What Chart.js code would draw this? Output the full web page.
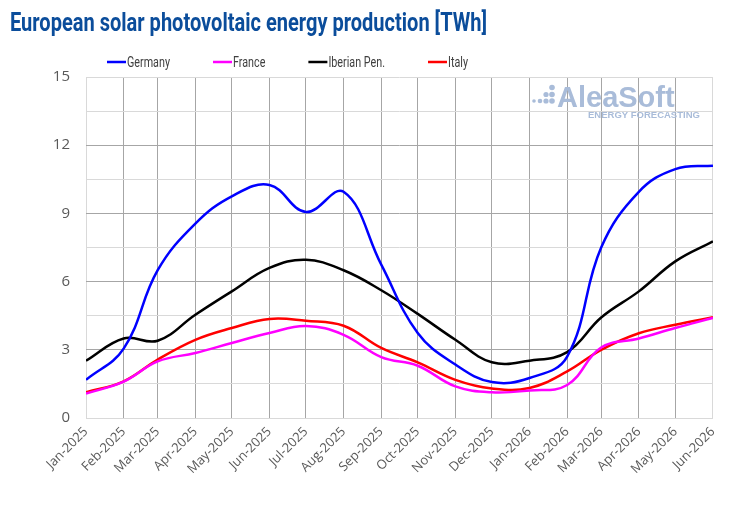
<!DOCTYPE html>
<html>
<head>
<meta charset="utf-8">
<script src="https://cdn.jsdelivr.net/npm/chart.js@4/dist/chart.umd.min.js"></script>
<style>
  html, body { margin: 0; padding: 0; background: #fff; }
  #wrap { width: 730px; height: 506px; }
</style>
</head>
<body>
<div id="wrap"><canvas id="solarChart" width="730" height="506"></canvas></div>
<script>
// month starts (x positions come from the real calendar dates)
const MONTHS = ['2025-01-01', '2025-02-01', '2025-03-01', '2025-04-01', '2025-05-01', '2025-06-01',
    '2025-07-01', '2025-08-01', '2025-09-01', '2025-10-01', '2025-11-01', '2025-12-01',
    '2026-01-01', '2026-02-01', '2026-03-01', '2026-04-01', '2026-05-01', '2026-06-01'];
const MONTH_LABELS = ['Jan-2025', 'Feb-2025', 'Mar-2025', 'Apr-2025', 'May-2025', 'Jun-2025',
    'Jul-2025', 'Aug-2025', 'Sep-2025', 'Oct-2025', 'Nov-2025', 'Dec-2025',
    'Jan-2026', 'Feb-2026', 'Mar-2026', 'Apr-2026', 'May-2026', 'Jun-2026'];
const Y_TICKS = [0, 3, 6, 9, 12, 15];

const GERMANY = [1.68, 3.05, 6.5, 8.55, 9.75, 10.25, 9.06, 9.95, 6.75, 3.74, 2.35, 1.58, 1.76, 2.7, 7.5, 9.95, 10.95, 11.1];
const FRANCE  = [1.07, 1.6, 2.49, 2.86, 3.3, 3.74, 4.05, 3.66, 2.68, 2.3, 1.39, 1.13, 1.21, 1.45, 3.1, 3.5, 3.96, 4.4];
const IBERIA  = [2.52, 3.5, 3.4, 4.54, 5.57, 6.6, 6.96, 6.5, 5.62, 4.58, 3.44, 2.45, 2.52, 2.9, 4.42, 5.57, 6.89, 7.77];
const ITALY   = [1.13, 1.61, 2.57, 3.44, 3.96, 4.36, 4.28, 4.06, 3.08, 2.45, 1.68, 1.3, 1.32, 2.05, 3.0, 3.73, 4.1, 4.43];

const TITLE = 'European solar photovoltaic energy production [TWh]';

const DAY = 24 * 60 * 60 * 1000;
const t0 = Date.parse(MONTHS[0]);
const monthDays = MONTHS.map(m => Math.round((Date.parse(m) - t0) / DAY));
const toPoints = arr => arr.map((v, i) => ({ x: monthDays[i], y: v }));

const TICK_FONT = '"Open Sans", "Liberation Sans", sans-serif';
const LIGHT = '#d9d9d9';
const MID = '#a6a6a6';

function series(label, data, color) {
    return {
        label: label,
        data: toPoints(data),
        borderColor: color,
        backgroundColor: color,
        borderWidth: 2.5,
        pointRadius: 0,
        pointHoverRadius: 0,
        fill: false,
        tension: 0.4
    };
}

// draw text squeezed horizontally, the original uses a condensed face
function narrowText(ctx, text, x, y, sx) {
    ctx.save();
    ctx.translate(x, y);
    ctx.scale(sx, 1);
    ctx.fillText(text, 0, 0);
    ctx.restore();
}

// title + one-row legend with short line samples
const header = {
    id: 'header',
    afterDraw(chart) {
        const ctx = chart.ctx;
        ctx.save();
        ctx.fillStyle = '#0b4d9b';
        ctx.font = 'bold 26px Roboto, sans-serif';
        ctx.textBaseline = 'alphabetic';
        const tw = ctx.measureText(TITLE).width;
        narrowText(ctx, TITLE, 10, 31, 477 / tw);

        ctx.font = '14.5px Roboto, sans-serif';
        ctx.textBaseline = 'middle';
        const sx = 43 / ctx.measureText('Germany').width;
        let x = 107;
        const y = 62;
        chart.data.datasets.forEach(ds => {
            ctx.strokeStyle = ds.borderColor;
            ctx.lineWidth = 2.5;
            ctx.beginPath();
            ctx.moveTo(x, y);
            ctx.lineTo(x + 19, y);
            ctx.stroke();
            ctx.fillStyle = '#404040';
            narrowText(ctx, ds.label, x + 20, y + 1, sx);
            x += 20 + ctx.measureText(ds.label).width * sx + 43;
        });
        ctx.restore();
    }
};

// faded company mark in the top right of the plot
const watermark = {
    id: 'watermark',
    beforeDatasetsDraw(chart) {
        const ctx = chart.ctx;
        ctx.save();
        ctx.fillStyle = '#a9bcd9';
        const dots = [[534, 101, 1.8], [540, 101, 2.3], [546, 101, 2.6], [546, 94.5, 2.6],
                      [552, 101, 2.8], [552, 94.5, 2.8], [552, 87.5, 2.8]];
        dots.forEach(([dx, dy, r]) => {
            ctx.beginPath();
            ctx.arc(dx, dy, r, 0, Math.PI * 2);
            ctx.fill();
        });
        ctx.font = 'bold 29px "Liberation Sans", Arial, sans-serif';
        ctx.textBaseline = 'alphabetic';
        ctx.fillText('AleaSoft', 557, 107);
        ctx.font = 'bold 9.5px "Liberation Sans", Arial, sans-serif';
        ctx.fillText('ENERGY FORECASTING', 588, 118);
        ctx.restore();
    }
};

const ctx = document.getElementById('solarChart').getContext('2d');
new Chart(ctx, {
    type: 'line',
    data: {
        datasets: [
            series('Germany', GERMANY, '#0000ff'),
            series('France', FRANCE, '#ff00ff'),
            series('Iberian Pen.', IBERIA, '#000000'),
            series('Italy', ITALY, '#ff0000')
        ]
    },
    options: {
        responsive: false,
        animation: false,
        devicePixelRatio: 1,
        layout: { padding: { left: 0, right: 17, top: 77, bottom: 0 } },
        plugins: {
            legend: { display: false },
            tooltip: { enabled: false },
            title: { display: false }
        },
        scales: {
            x: {
                type: 'linear',
                min: 0,
                max: monthDays[monthDays.length - 1],
                afterBuildTicks: axis => { axis.ticks = monthDays.map(v => ({ value: v })); },
                afterFit: axis => { axis.height = 88; },
                border: { display: false },
                grid: {
                    drawTicks: false,
                    lineWidth: 1,
                    color: c => (c.index === 0 || c.index === monthDays.length - 1) ? LIGHT : MID
                },
                ticks: {
                    autoSkip: false,
                    minRotation: 45,
                    maxRotation: 45,
                    padding: 6,
                    color: '#595959',
                    font: { family: TICK_FONT, size: 13 },
                    callback: v => MONTH_LABELS[monthDays.indexOf(v)]
                }
            },
            y: {
                min: 0,
                max: 15,
                afterBuildTicks: axis => {
                    const t = [];
                    for (let i = 0; i < Y_TICKS.length; i++) {
                        t.push({ value: Y_TICKS[i] });
                        if (i < Y_TICKS.length - 1) t.push({ value: (Y_TICKS[i] + Y_TICKS[i + 1]) / 2 });
                    }
                    axis.ticks = t;
                },
                afterFit: axis => { axis.width = 86; },
                border: { display: false },
                grid: {
                    drawTicks: false,
                    lineWidth: 1,
                    color: c => {
                        const v = c.tick.value;
                        if (v === 0 || v === 15) return LIGHT;
                        return Y_TICKS.includes(v) ? MID : LIGHT;
                    }
                },
                ticks: {
                    padding: 16,
                    color: '#595959',
                    font: { family: TICK_FONT, size: 15 },
                    callback: v => Y_TICKS.includes(v) ? String(v) : ''
                }
            }
        }
    },
    plugins: [watermark, header]
});
</script>
</body>
</html>
